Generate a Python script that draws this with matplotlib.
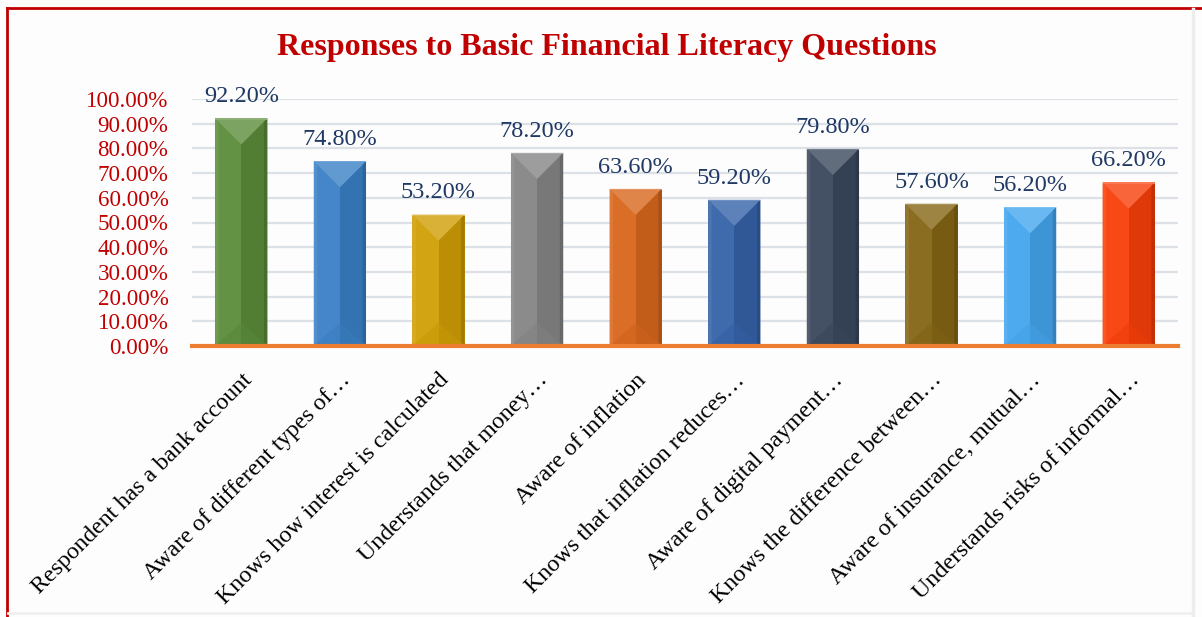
import matplotlib
matplotlib.use("Agg")
import matplotlib.pyplot as plt
import numpy as np
from matplotlib.patches import Polygon, Rectangle
from matplotlib.lines import Line2D
from matplotlib.colors import to_rgb

categories = [
    "Respondent has a bank account",
    "Aware of different types of…",
    "Knows how interest is calculated",
    "Understands that money…",
    "Aware of inflation",
    "Knows that inflation reduces…",
    "Aware of digital payment…",
    "Knows the difference between…",
    "Aware of insurance, mutual…",
    "Understands risks of informal…",
]
values = [92.2, 74.8, 53.2, 78.2, 63.6, 59.2, 79.8, 57.6, 56.2, 66.2]
colors = ["#5B8C3A", "#3A80C6", "#D09E05", "#858585", "#D8661C",
          "#3562A8", "#3A475C", "#846514", "#45A6EE", "#F83E0A"]
yticks = [0, 10, 20, 30, 40, 50, 60, 70, 80, 90, 100]
title = "Responses to Basic Financial Literacy Questions"

plt.rcParams['font.family'] = ['Liberation Serif', 'DejaVu Serif']

W, H, DPI = 1202, 617, 100
fig = plt.figure(figsize=(W / DPI, H / DPI), dpi=DPI)
fig.patch.set_facecolor("#FDFDFD")

left_px, right_px, top_px, bot_px = 192, 1178, 99, 346
ax = fig.add_axes([left_px / W, 1 - bot_px / H, (right_px - left_px) / W, (bot_px - top_px) / H])
ax.set_facecolor("#FDFDFD")

x = np.arange(len(categories))
bw = 0.53
ax.set_xlim(-0.5, len(categories) - 0.5)
ax.set_ylim(0, 100)

for t in yticks[1:]:
    ax.axhline(t, color="#DCE1E8", lw=1.6, zorder=0)

bars = ax.bar(x, values, width=bw, color=colors, zorder=2, edgecolor="none")

# pixel scales
px_x = (right_px - left_px) / len(categories)
px_y = (bot_px - top_px) / 100.0


def blend(c, other, f):
    c = np.array(to_rgb(c)); o = np.array(to_rgb(other))
    return tuple(c * (1 - f) + o * f)

for xi, v, c in zip(x, values, colors):
    l, r = xi - bw / 2, xi + bw / 2
    d = (bw / 2 * px_x) / px_y  # 45 deg bevel depth in data units
    d = min(d, v / 2)
    ax.add_patch(Rectangle((l, 0), bw / 2, v, facecolor=blend(c, "white", 0.05), edgecolor="none", zorder=3))
    ax.add_patch(Rectangle((xi, 0), bw / 2, v, facecolor=blend(c, "black", 0.10), edgecolor="none", zorder=3))
    ax.add_patch(Polygon([(l, v), (r, v), (xi, v - d)], closed=True,
                         facecolor=blend(c, "white", 0.20), edgecolor="none", zorder=4))
    ax.add_patch(Polygon([(l, 0), (r, 0), (xi, d * 0.9)], closed=True,
                         facecolor=blend(c, "black", 0.04), edgecolor="none", zorder=4, alpha=0.5))
    ex = 0.035
    ax.add_patch(Polygon([(l, 0), (l + ex, d * ex / (bw / 2)), (l + ex, v - d * ex / (bw / 2)), (l, v)],
                         closed=True, facecolor=blend(c, "white", 0.12), edgecolor="none", zorder=4))
    ax.add_patch(Polygon([(r, 0), (r - ex, d * ex / (bw / 2)), (r - ex, v - d * ex / (bw / 2)), (r, v)],
                         closed=True, facecolor=blend(c, "black", 0.22), edgecolor="none", zorder=4))
    ax.add_patch(Rectangle((l, v - 0.5), bw, 0.5, facecolor=blend(c, "white", 0.30), edgecolor="none", zorder=5))
    ax.annotate(f"{v:.2f}%", (xi, v), xytext=(0, 8), textcoords="offset points",
                ha="center", va="bottom", fontsize=17.5, color="#1F3864", zorder=6,
                annotation_clip=False)

ax.axhline(0, color="#ED7D31", lw=3, zorder=7, clip_on=False)

ax.set_yticks(yticks)
ax.set_yticklabels([f"{t:.2f}%" for t in yticks], fontsize=16.6, color="#C00000")
ax.set_xticks(x)
ax.set_xticklabels(categories, rotation=45, ha="right", va="top",
                   rotation_mode="anchor", fontsize=17.3, color="black")
ax.tick_params(axis="y", length=0, pad=17)
ax.tick_params(axis="x", length=0, pad=17)
for s in ax.spines.values():
    s.set_visible(False)

fig.text(0.505, 1 - 48 / H, title, ha="center", va="center", fontsize=23,
         fontweight="bold", color="#C00000")

# frame
fig.add_artist(Line2D([7 / W, 1], [1 - 8 / H, 1 - 8 / H], color="#C00000", lw=2, transform=fig.transFigure))
fig.add_artist(Line2D([7 / W, 7 / W], [0, 1 - 8 / H], color="#C00000", lw=2, transform=fig.transFigure))
fig.add_artist(Line2D([1193 / W, 1193 / W], [0, 1 - 9 / H], color="#EDEDED", lw=2.5, transform=fig.transFigure))
fig.add_artist(Line2D([8 / W, 1192 / W], [4 / H, 4 / H], color="#F0F0F0", lw=2, transform=fig.transFigure))

fig.savefig("out.png", dpi=DPI, facecolor=fig.get_facecolor())
